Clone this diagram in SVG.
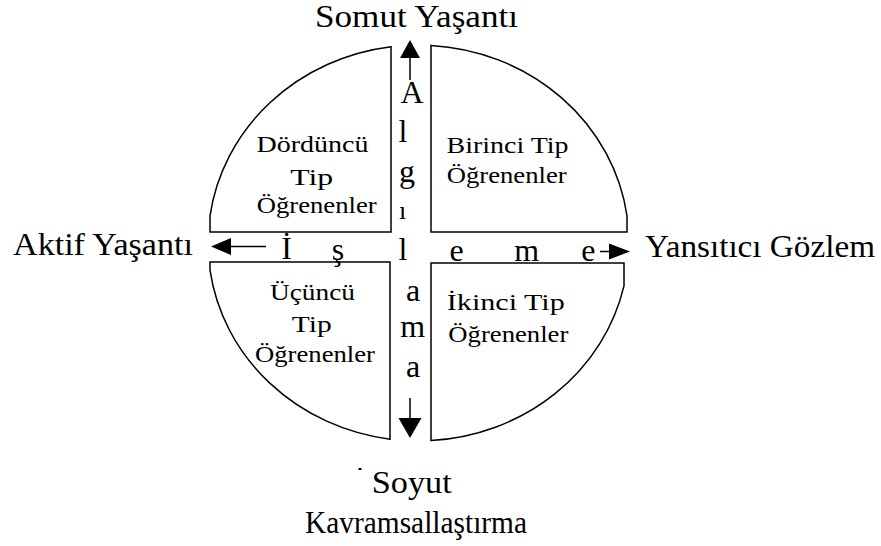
<svg xmlns="http://www.w3.org/2000/svg" width="881" height="546" viewBox="0 0 881 546">
<style>
.q{fill:none;stroke:#000;stroke-width:1.5}
.t{font-family:"Liberation Serif","Times New Roman",serif;fill:#000}
.o{font-size:31px}
.i{font-size:24px;text-anchor:middle}
.c{font-size:32px;text-anchor:middle}
.ln{stroke:#000;stroke-width:1.5}
.hd{fill:#000}
</style>
<rect width="881" height="546" fill="#fff"/>

<g id="q-dorduncu">
<path class="q" d="M391,46.7 L391,232 L210,232 L210,215.8 A210.5 198 0 0 1 391,46.7 Z"/>
<text class="t i" x="312.5" y="151.7" textLength="112" lengthAdjust="spacingAndGlyphs">Dördüncü</text>
<text class="t i" x="311.7" y="185" textLength="43" lengthAdjust="spacingAndGlyphs">Tip</text>
<text class="t i" x="316.7" y="213.3" textLength="120" lengthAdjust="spacingAndGlyphs">Öğrenenler</text>
</g>

<g id="q-birinci">
<path class="q" d="M431,232 L431,45.4 A210.5 198 0 0 1 627,215.8 L627,232 Z"/>
<text class="t i" x="507.5" y="153.3" textLength="122" lengthAdjust="spacingAndGlyphs">Birinci Tip</text>
<text class="t i" x="506.7" y="183.3" textLength="120" lengthAdjust="spacingAndGlyphs">Öğrenenler</text>
</g>

<g id="q-ucuncu">
<path class="q" d="M390,262 L390,439.2 A210.5 198 0 0 1 210,270.2 L210,262 Z"/>
<text class="t i" x="312.5" y="300" textLength="85" lengthAdjust="spacingAndGlyphs">Üçüncü</text>
<text class="t i" x="311.7" y="331.7" textLength="40" lengthAdjust="spacingAndGlyphs">Tip</text>
<text class="t i" x="315" y="361.7" textLength="120" lengthAdjust="spacingAndGlyphs">Öğrenenler</text>
</g>

<g id="q-ikinci">
<path class="q" d="M431,263 L624,263 L624,285.9 A210.5 198 0 0 1 431,440.6 Z"/>
<text class="t i" x="505.8" y="310" textLength="118" lengthAdjust="spacingAndGlyphs">İkinci Tip</text>
<text class="t i" x="508.3" y="341.7" textLength="120" lengthAdjust="spacingAndGlyphs">Öğrenenler</text>
</g>

<g id="connectors">
<line class="ln" x1="410" y1="57" x2="410" y2="80"/>
<polygon class="hd" points="410,40 400,58 420,58"/>
<line class="ln" x1="410" y1="398" x2="410" y2="419"/>
<polygon class="hd" points="410,438 398.5,418 421.5,418"/>
<line class="ln" x1="230" y1="246.5" x2="266" y2="246.5"/>
<polygon class="hd" points="211,246.5 231,238 231,255"/>
<line class="ln" x1="600" y1="251.5" x2="611" y2="251.5"/>
<polygon class="hd" points="630,251.5 609,243.5 609,259.5"/>
</g>

<g id="axis-algilama">
<text class="t c" x="412" y="103">A</text>
<text class="t c" x="403" y="142">l</text>
<text class="t c" x="407" y="181.5">g</text>
<text class="t c" x="402.7" y="219" style="font-size:26px">ı</text>
<text class="t c" x="403" y="260">l</text>
<text class="t c" x="413" y="300.7">a</text>
<text class="t c" x="412.7" y="336.7">m</text>
<text class="t c" x="413" y="376.7">a</text>
</g>

<g id="axis-isleme">
<text class="t c" x="286.7" y="259">İ</text>
<text class="t c" x="338" y="260">ş</text>
<text class="t c" x="456.7" y="260.7">e</text>
<text class="t c" x="526.7" y="260.7">m</text>
<text class="t c" x="588.3" y="260.7">e</text>
</g>

<g id="label-somut">
<text class="t o" x="315" y="27" textLength="203" lengthAdjust="spacingAndGlyphs">Somut Yaşantı</text>
</g>
<g id="label-aktif">
<text class="t o" x="13" y="255" textLength="180" lengthAdjust="spacingAndGlyphs">Aktif Yaşantı</text>
</g>
<g id="label-yansitici">
<text class="t o" x="645" y="256.7" textLength="230" lengthAdjust="spacingAndGlyphs">Yansıtıcı Gözlem</text>
</g>
<g id="label-soyut">
<rect x="358.5" y="468" width="3" height="2" fill="#000"/>
<text class="t o" x="371.7" y="493.3" textLength="80" lengthAdjust="spacingAndGlyphs">Soyut</text>
<text class="t o" x="305" y="533.3" textLength="222" lengthAdjust="spacingAndGlyphs">Kavramsallaştırma</text>
</g>
</svg>
